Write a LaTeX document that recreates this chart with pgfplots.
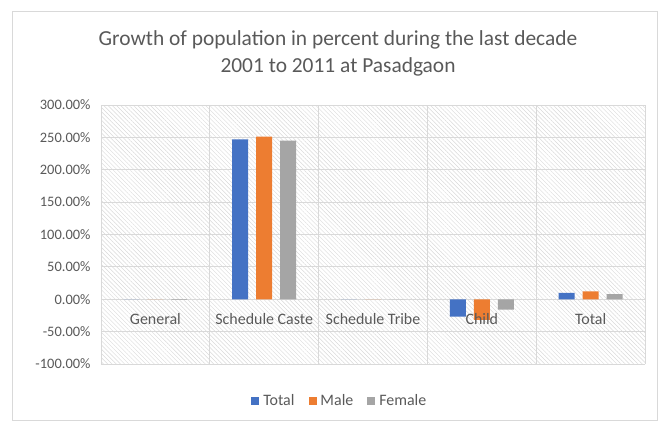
\documentclass[border=0pt]{standalone}
\usepackage{pgfplots}
\pgfplotsset{compat=1.18}
\usepackage{fontspec}
\setmainfont{Carlito}
\usetikzlibrary{patterns.meta}
\definecolor{cblue}{HTML}{4472C4}
\definecolor{corange}{HTML}{ED7D31}
\definecolor{cgray}{HTML}{A5A5A5}
\definecolor{txt}{HTML}{595959}
\definecolor{gridc}{HTML}{D9D9D9}
\begin{document}
\begin{tikzpicture}
\path[use as bounding box] (0,0) rectangle (667bp,426bp);
\draw[gridc, line width=0.8pt] (12bp,6bp) rectangle (657bp,415bp);
\node[text=txt, align=center, font=\fontsize{21.5}{27}\selectfont] at (338bp,373bp) {Growth of population in percent during the last decade\\2001 to 2011 at Pasadgaon};
\begin{axis}[
  at={(101bp,62bp)}, anchor=south west,
  scale only axis, width=544bp, height=259bp,
  ybar=8bp, bar width=16bp,
  xmin=-0.5, xmax=4.5, ymin=-100, ymax=300,
  ytick={-100,-50,0,50,100,150,200,250,300},
  xtick={0,1,2,3,4},
  xticklabels={},
  minor xtick={-0.5,0.5,1.5,2.5,3.5,4.5},
  minor x grid style={gridc, line width=0.8pt},
  xminorgrids, ymajorgrids,
  major grid style={gridc, line width=0.8pt},
  axis x line=middle, axis y line=left,
  axis line style={gridc, line width=0.8pt, -},
  major tick length=0pt, minor tick length=0pt,
  axis background/.style={pattern={Lines[angle=-45,distance=3bp,line width=0.45bp]}, pattern color=gridc},
  /pgf/number format/assume math mode=true,
  yticklabel={\pgfmathprintnumber[fixed,fixed zerofill,precision=2]{\tick}\%},
  y tick label style={text=txt, font=\fontsize{14.5}{16}\selectfont, xshift=-7bp},
  legend style={at={(0.439,-0.143)}, anchor=center, draw=none, fill=none,
    legend columns=-1, font=\fontsize{16}{18}\selectfont, text=txt,
    /tikz/every odd column/.append style={column sep=2bp},
    /tikz/every even column/.append style={column sep=12bp}},
  legend image code/.code={\fill[#1] (0bp,-4bp) rectangle (8bp,4bp);},
  clip=false,
]
\addplot[fill=cblue, draw=none] coordinates {(0,0) (1,247) (2,0) (3,-27) (4,10)};
\addplot[fill=corange, draw=none] coordinates {(0,0) (1,251) (2,0) (3,-32) (4,12)};
\addplot[fill=cgray, draw=none] coordinates {(0,-1) (1,245) (2,0) (3,-16) (4,8)};
\legend{Total,Male,Female}
\tikzset{catlab/.style={anchor=north, text=txt, font=\fontsize{16}{18}\selectfont, yshift=-11bp}}
\node[catlab] at (axis cs:0,0) {General};
\node[catlab] at (axis cs:1,0) {Schedule Caste};
\node[catlab] at (axis cs:2,0) {Schedule Tribe};
\node[catlab] at (axis cs:3,0) {Child};
\node[catlab] at (axis cs:4,0) {Total};
\end{axis}
\end{tikzpicture}
\end{document}
